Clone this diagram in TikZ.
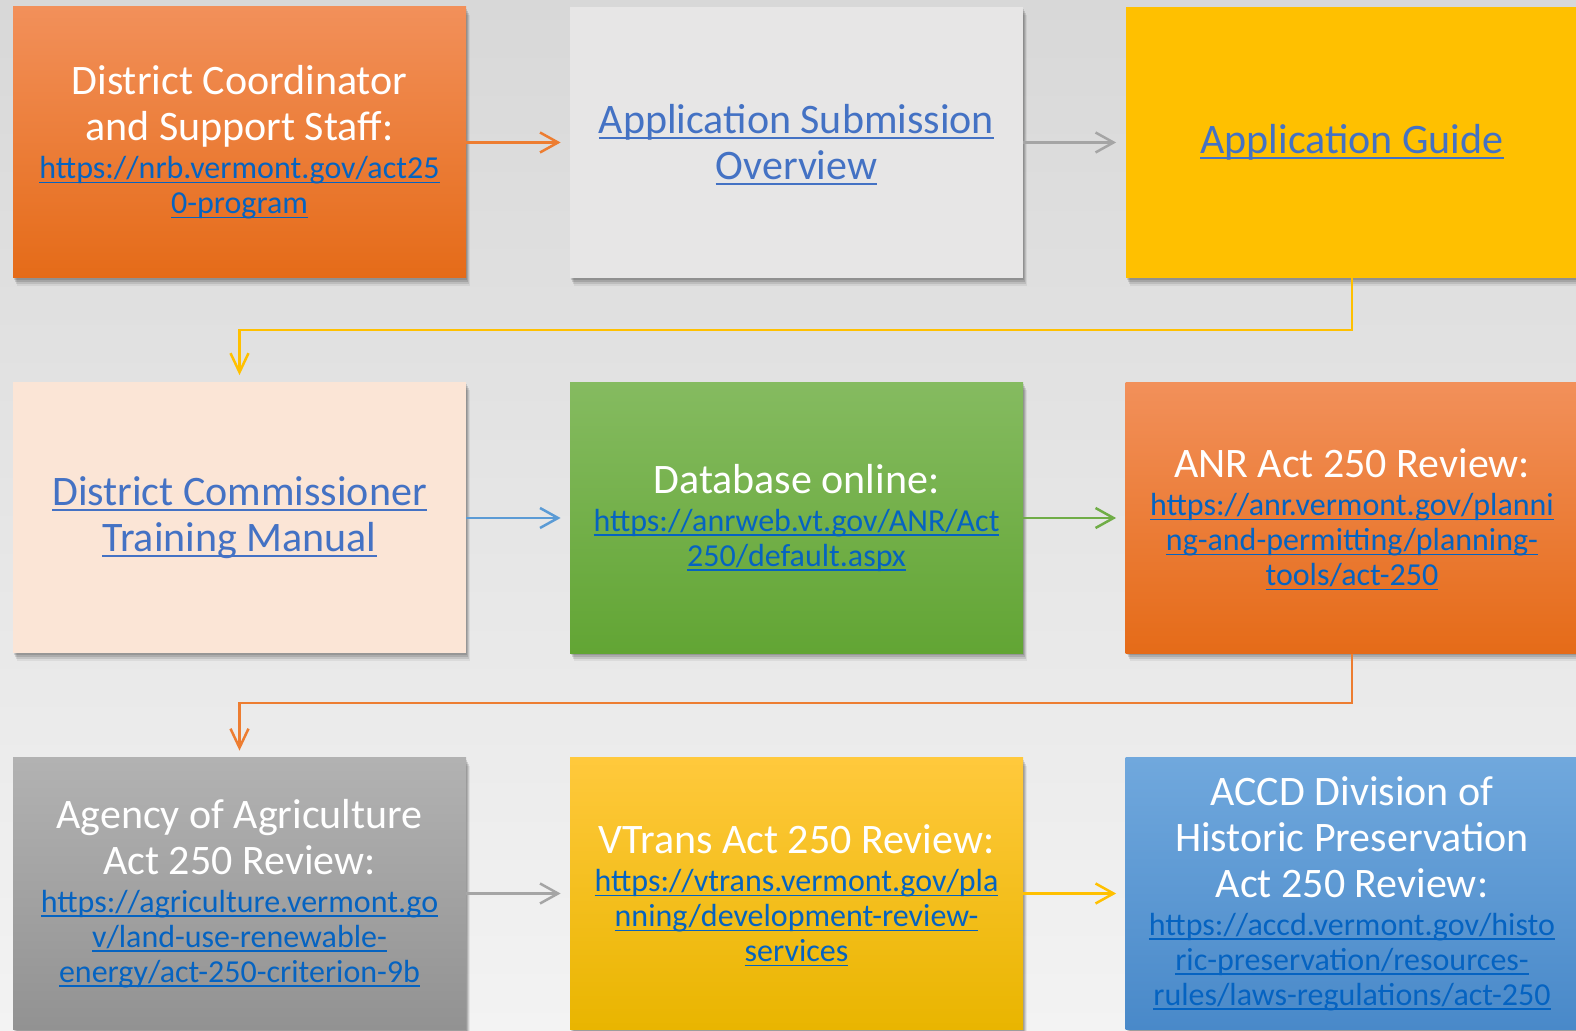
\documentclass[tikz,border=0pt]{standalone}
\usepackage{fontspec}
\setmainfont{Carlito}
\usetikzlibrary{shadows,arrows.meta}
\definecolor{bgtop}{HTML}{D8D8D8}
\definecolor{bgbot}{HTML}{F3F3F3}
\definecolor{orT}{HTML}{F2905A}
\definecolor{orB}{HTML}{E56B18}
\definecolor{grT}{HTML}{B2B2B2}
\definecolor{grB}{HTML}{929292}
\definecolor{gnT}{HTML}{85BB60}
\definecolor{gnB}{HTML}{62A534}
\definecolor{yeT}{HTML}{FFC93C}
\definecolor{yeB}{HTML}{E9B500}
\definecolor{blT}{HTML}{70A8DD}
\definecolor{blB}{HTML}{4989C9}
\definecolor{lgray}{HTML}{E7E6E6}
\definecolor{yel}{HTML}{FFC000}
\definecolor{peach}{HTML}{FBE5D6}
\definecolor{lnk}{HTML}{0563C1}
\definecolor{lnk2}{HTML}{4472C4}
\definecolor{arOr}{HTML}{ED7D31}
\definecolor{arGr}{HTML}{A5A5A5}
\definecolor{arBl}{HTML}{5B9BD5}
\definecolor{arGn}{HTML}{70AD47}
\definecolor{arYe}{HTML}{FFC000}
\newlength\uldp
\newlength\ulth
\newcommand\titlesz{\fontsize{21}{23}\selectfont\lineskiplimit=-100pt\setlength{\uldp}{0.13em}\setlength{\ulth}{1pt}}
\newcommand\urlsz{\par\vskip1.5pt\fontsize{16}{17.5}\selectfont\lineskiplimit=-100pt\setlength{\uldp}{0.14em}\setlength{\ulth}{0.8pt}\color{lnk}}
\newcommand\lk[1]{\leavevmode\setbox0\hbox{#1}\rlap{\smash{\raisebox{-\uldp}{\rule{\wd0}{\ulth}}}}\box0}
\tikzset{
  box/.style={minimum width=226.5pt, minimum height=135.5pt, text width=225pt,
    align=flush center, inner sep=0pt, font=\titlesz, text=white,
    drop shadow={shadow xshift=0.5pt, shadow yshift=-1pt, opacity=.12, fill=black},
    drop shadow={shadow xshift=1pt, shadow yshift=-2pt, opacity=.12, fill=black},
    drop shadow={shadow xshift=1.5pt, shadow yshift=-3pt, opacity=.10, fill=black},
    drop shadow={shadow xshift=2pt, shadow yshift=-4pt, opacity=.06, fill=black}},
  arr/.style={line width=1.25pt, -{Straight Barb[length=9pt,width=10pt]}, shorten >=4.5pt},
  varr/.style={line width=1.25pt, -{Straight Barb[length=9.5pt,width=9pt]}, shorten >=3.5pt}
}
\begin{document}
\begin{tikzpicture}[x=0.5pt,y=-0.5pt]
\useasboundingbox (0,0) rectangle (1576,1031);
\shade[top color=bgtop, bottom color=bgbot] (0,0) rectangle (1576,1031);

\node[box, top color=orT, bottom color=orB] (b1) at (239.5,142.5)
  {District Coordinator\\and Support Staff:\urlsz\lk{https://nrb.vermont.gov/act25}\\\lk{0-program}\par};
\node[box, fill=lgray, text=lnk2] (b2) at (796.5,142.5)
  {\lk{Application Submission}\\\lk{Overview}\par};
\node[box, fill=yel, text=lnk2] (b3) at (1352,142.5)
  {\lk{Application Guide}\par};

\node[box, fill=peach, text=lnk2] (b4) at (239.5,518)
  {\lk{District Commissioner}\\\lk{Training Manual}\par};
\node[box, top color=gnT, bottom color=gnB] (b5) at (796.5,518)
  {Database online:\urlsz\lk{https://anrweb.vt.gov/ANR/Act}\\\lk{250/default.aspx}\par};
\node[box, top color=orT, bottom color=orB] (b6) at (1352,518)
  {ANR Act 250 Review:\urlsz\lk{https://anr.vermont.gov/planni}\\\lk{ng-and-permitting/planning-}\\\lk{tools/act-250}\par};

\node[box, top color=grT, bottom color=grB] (b7) at (239.5,893.5)
  {Agency of Agriculture\\Act 250 Review:\urlsz\lk{https://agriculture.vermont.go}\\\lk{v/land-use-renewable-}\\\lk{energy/act-250-criterion-9b}\par};
\node[box, top color=yeT, bottom color=yeB] (b8) at (796.5,893.5)
  {VTrans Act 250 Review:\urlsz\lk{https://vtrans.vermont.gov/pla}\\\lk{nning/development-review-}\\\lk{services}\par};
\node[box, top color=blT, bottom color=blB] (b9) at (1352,893.5)
  {ACCD Division of\\Historic Preservation\\Act 250 Review:\urlsz\lk{https://accd.vermont.gov/histo}\\\lk{ric-preservation/resources-}\\\lk{rules/laws-regulations/act-250}\par};

\draw[arr, arOr] (b1) -- (b2);
\draw[arr, arGr] (b2) -- (b3);
\draw[arr, arBl] (b4) -- (b5);
\draw[arr, arGn] (b5) -- (b6);
\draw[arr, arGr] (b7) -- (b8);
\draw[arr, arYe] (b8) -- (b9);

\coordinate (m1) at (1352,330);
\coordinate (m2) at (1352,703);
\draw[varr, arYe] (b3.south) -- (m1) -| (b4.north);
\draw[varr, arOr] (b6.south) -- (m2) -| (b7.north);
\end{tikzpicture}
\end{document}
